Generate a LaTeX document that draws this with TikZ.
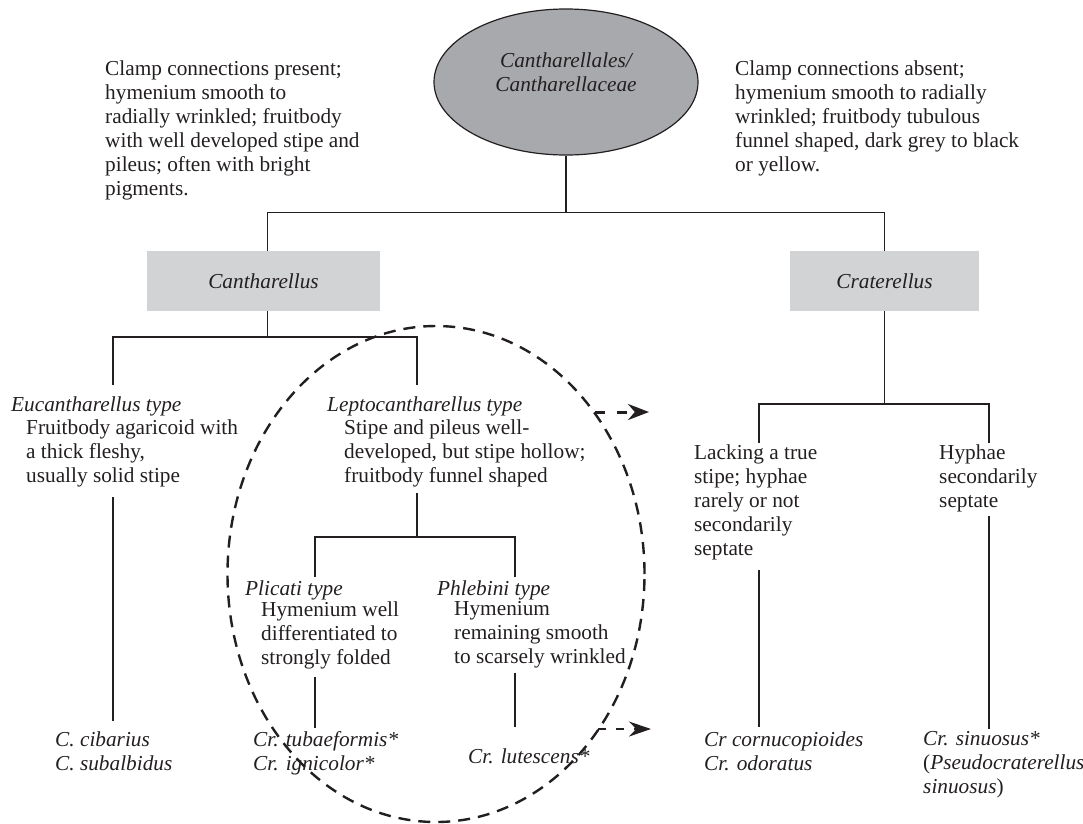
\documentclass[tikz,border=0pt]{standalone}
\usepackage{fontspec}
\setmainfont{Liberation Serif}
\usetikzlibrary{shapes.geometric,arrows.meta}
\definecolor{ink}{HTML}{231F20}
\definecolor{boxgray}{HTML}{D1D3D4}
\definecolor{ellgray}{HTML}{A7A9AC}
\newcommand\dfont{\fontsize{21.3}{24}\selectfont}
\begin{document}
\begin{tikzpicture}[x=1pt,y=-1pt,
  txt/.style={inner sep=0pt, anchor=north west, align=left, font=\dfont, text=ink, yshift=16.8pt, execute at begin node=\strut},
  ctxt/.style={txt, anchor=north, align=center},
  tree/.style={draw=ink, line width=1.2pt},
  graybox/.style={fill=boxgray, inner sep=0pt, minimum height=60pt, font=\dfont\itshape, text=ink},
  ovaldash/.style={draw=ink, line width=2.4pt, dash pattern=on 12pt off 8pt},
  bigarrow/.style={draw=ink, line width=3pt, dash pattern=on 10pt off 12pt, -{Stealth[length=21pt,width=16pt]}},
  smallarrow/.style={draw=ink, line width=1.5pt, dash pattern=on 8pt off 10pt, -{Stealth[length=22pt,width=15pt]}}
]
\useasboundingbox (0,0) rectangle (1083,823);

% top oval
\node[ellipse, draw=ink, line width=1.2pt, fill=ellgray, minimum width=264pt, minimum height=146pt, inner sep=0pt] (ell) at (566,82) {};
\node[ctxt] (elltxt) at (566,69) {\itshape Cantharellales/\\\itshape Cantharellaceae};

% top descriptions
\node[txt] (ltxt) at (105,77) {Clamp connections present;\\hymenium smooth to\\radially wrinkled; fruitbody\\with well developed stipe and\\pileus; often with bright\\pigments.};
\node[txt] (rtxt) at (735,77) {Clamp connections absent;\\hymenium smooth to radially\\wrinkled; fruitbody tubulous\\funnel shaped, dark grey to black\\or yellow.};

% genus boxes
\node[graybox, minimum width=233pt] (cant) at (263.5,281) {Cantharellus};
\node[graybox, minimum width=189pt] (crat) at (884.5,281) {Craterellus};

% junctions
\coordinate (j1) at (566,212.5);
\coordinate (j2) at (267.6,337);
\coordinate (j3) at (417,537);
\coordinate (j4) at (884.5,404);

\draw[tree] (ell.south) -- (j1);
\draw[tree] ([xshift=4.1pt]cant.north) |- (j1) -| (crat.north);

% Cantharellus branches
\coordinate (euTop) at (113,385);
\coordinate (lepTop) at (417,385);
\draw[tree] ([xshift=4.1pt]cant.south) -- (j2);
\draw[tree] (euTop) |- (j2) -| (lepTop);

\node[txt] (euT) at (11,411) {\itshape Eucantharellus type};
\node[txt] (euB) at (26,436) {Fruitbody agaricoid with\\a thick fleshy,\\usually solid stipe};
\coordinate (euS1) at (113,497);
\coordinate (euS2) at (113,721);
\draw[tree] (euS1) -- (euS2);
\node[txt] (cib) at (55,748) {\itshape C. cibarius\\\itshape C. subalbidus};

\node[txt] (lepT) at (327,411) {\itshape Leptocantharellus type};
\node[txt] (lepB) at (344,436) {Stipe and pileus well-\\developed, but stipe hollow;\\fruitbody funnel shaped};
\coordinate (lepS) at (417,493);
\draw[tree] (lepS) -- (j3);
\coordinate (pliTop) at (315,577);
\coordinate (phlTop) at (515,577);
\draw[tree] (pliTop) |- (j3) -| (phlTop);

\node[txt] (pliT) at (245,595) {\itshape Plicati type};
\node[txt] (pliB) at (261,618) {Hymenium well\\differentiated to\\strongly folded};
\coordinate (pliS1) at (315,677);
\coordinate (pliS2) at (315,728);
\draw[tree] (pliS1) -- (pliS2);
\node[txt] (tub) at (253,748) {\itshape Cr. tubaeformis*\\\itshape Cr. ignicolor*};

\node[txt] (phlT) at (437,595) {\itshape Phlebini type};
\node[txt] (phlB) at (454,618) {Hymenium\\remaining smooth\\to scarsely wrinkled};
\coordinate (phlS1) at (515,673);
\coordinate (phlS2) at (515,727);
\draw[tree] (phlS1) -- (phlS2);
\node[txt] (lut) at (468,763) {\itshape Cr. lutescens*};

% Craterellus branches
\coordinate (lackTop) at (759,443);
\coordinate (hyphTop) at (989,443);
\draw[tree] (crat.south) -- (j4);
\draw[tree] (lackTop) |- (j4) -| (hyphTop);

\node[txt] (lack) at (694,461) {Lacking a true\\stipe; hyphae\\rarely or not\\secondarily\\septate};
\coordinate (lackS1) at (759,570);
\coordinate (lackS2) at (759,727);
\draw[tree] (lackS1) -- (lackS2);
\node[txt] (corn) at (704,748) {\itshape Cr cornucopioides\\\itshape Cr. odoratus};

\node[txt] (hyph) at (939,461) {Hyphae\\secondarily\\septate};
\coordinate (hyphS1) at (989,516);
\coordinate (hyphS2) at (989,729);
\draw[tree] (hyphS1) -- (hyphS2);
\node[txt] (sin) at (923,748) {\itshape Cr. sinuosus*\\(\textit{Pseudocraterellus}\\\textit{sinuosus})};

% dashed oval and arrows
\node[ellipse, ovaldash, minimum width=417pt, minimum height=496pt, inner sep=0pt] (oval) at (436,574) {};
\coordinate (upA) at (595,412);
\coordinate (upB) at (649,412);
\draw[bigarrow] (upA) -- (upB);
\coordinate (loA) at (598,729);
\coordinate (loB) at (651,729);
\draw[smallarrow] (loA) -- (loB);
\end{tikzpicture}
\end{document}
